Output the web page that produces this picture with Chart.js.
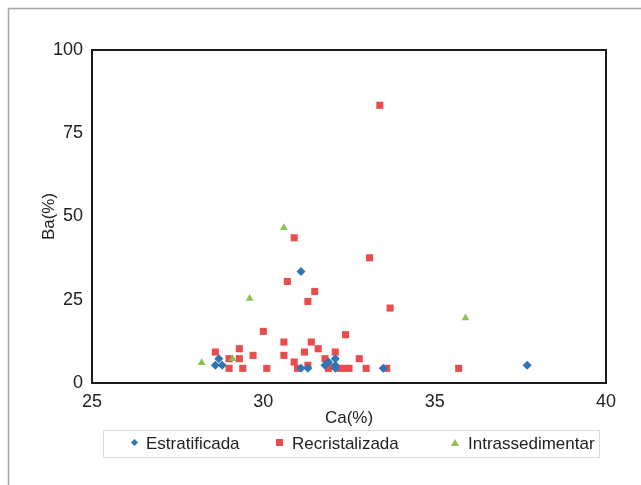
<!DOCTYPE html>
<html lang="pt">
<head>
    <meta charset="UTF-8" />
    <title>Ba vs Ca</title>
    <script src="https://cdn.jsdelivr.net/npm/chart.js"></script>
    <style>
        body {
            margin: 0;
            padding: 0;
            background: #fff;
            font-family: "Liberation Sans", Arial, sans-serif;
        }

        .wrap {
            position: relative;
            width: 641px;
            height: 485px;
        }

        .legend {
            position: absolute;
            left: 103px;
            top: 430px;
            width: 497px;
            height: 28px;
            box-sizing: border-box;
            border: 1px solid #d9d9d9;
            font-size: 17px;
            color: #222;
        }

        .legend span.item {
            position: absolute;
            top: 3px;
            white-space: nowrap;
        }

        .mk {
            display: inline-block;
            vertical-align: middle;
            margin-right: 9px;
            position: relative;
            top: -2px;
        }

        .mk.diamond {
            width: 5px;
            height: 5px;
            background: #2e75b6;
            transform: rotate(45deg);
        }

        .mk.square {
            width: 7px;
            height: 7px;
            background: #e84c4c;
        }

        .mk.triangle {
            width: 0;
            height: 0;
            border-left: 4px solid transparent;
            border-right: 4px solid transparent;
            border-bottom: 7px solid #8cc152;
        }
    </style>
</head>
<body>
    <div class="wrap">
        <canvas id="chart" width="641" height="485"></canvas>
        <div class="legend">
            <span class="item" style="left: 28px;"><i class="mk diamond"></i>Estratificada</span>
            <span class="item" style="left: 172px;"><i class="mk square"></i>Recristalizada</span>
            <span class="item" style="left: 347px;"><i class="mk triangle"></i>Intrassedimentar</span>
        </div>
    </div>

    <script>
        // Ca(%) / Ba(%) values
        const estratCa = [31.1, 37.7, 28.7, 28.6, 28.8, 31.1, 31.3, 31.8, 31.9, 32.1, 32.1, 32.1, 33.5];
        const estratBa = [33.5, 5.3, 7.3, 5.3, 5.3, 4.4, 4.4, 5.3, 6.3, 7.3, 5.3, 4.4, 4.4];

        const recristCa = [33.4, 30.9, 33.1, 30.7, 31.5, 31.3, 33.7, 30.0, 32.4, 30.6, 31.4, 29.3, 31.6,
            28.6, 31.2, 32.1, 30.6, 29.7, 29.0, 29.3, 30.9, 31.8, 32.8, 29.0, 29.4, 30.1, 31.0, 31.3,
            31.9, 31.9, 32.2, 32.4, 32.5, 33.0, 33.6, 35.7];
        const recristBa = [83.4, 43.6, 37.6, 30.5, 27.5, 24.5, 22.5, 15.5, 14.5, 12.3, 12.3, 10.3, 10.3,
            9.3, 9.3, 9.3, 8.3, 8.3, 7.3, 7.3, 6.3, 7.3, 7.3, 4.4, 4.4, 4.4, 4.4, 5.3,
            4.4, 5.3, 4.4, 4.4, 4.4, 4.4, 4.4, 4.4];

        const intraCa = [30.6, 29.6, 35.9, 28.2, 29.1];
        const intraBa = [46.6, 25.4, 19.5, 6.1, 7.3];

        const xTicks = [25, 30, 35, 40];
        const yTicks = [0, 25, 50, 75, 100];

        function toPoints(xs, ys) {
            return xs.map((x, i) => ({ x: x, y: ys[i] }));
        }

        // black frame round the plot and grey border round the chart
        const framePlugin = {
            id: 'frame',
            beforeDraw(chart) {
                const c = chart.ctx;
                c.save();
                c.strokeStyle = '#a6a6a6';
                c.lineWidth = 1.5;
                c.strokeRect(8.5, 8.5, 700, 600);
                c.restore();
            },
            afterDraw(chart) {
                const a = chart.chartArea;
                const c = chart.ctx;
                c.save();
                c.strokeStyle = '#1a1a1a';
                c.lineWidth = 2;
                c.strokeRect(a.left, a.top, a.right - a.left, a.bottom - a.top);
                c.restore();
            }
        };

        const font = { family: '"Liberation Sans", Arial, sans-serif', size: 18 };

        new Chart(document.getElementById('chart'), {
            type: 'scatter',
            data: {
                datasets: [{
                    label: 'Estratificada',
                    data: toPoints(estratCa, estratBa),
                    pointStyle: 'rectRot',
                    radius: 4.5,
                    backgroundColor: '#2e75b6',
                    borderColor: '#2e75b6',
                    borderWidth: 0,
                    order: 0
                }, {
                    label: 'Recristalizada',
                    data: toPoints(recristCa, recristBa),
                    pointStyle: 'rect',
                    radius: 5,
                    backgroundColor: '#e84c4c',
                    borderColor: '#e84c4c',
                    borderWidth: 0,
                    order: 2
                }, {
                    label: 'Intrassedimentar',
                    data: toPoints(intraCa, intraBa),
                    pointStyle: 'triangle',
                    radius: 4.5,
                    backgroundColor: '#8cc152',
                    borderColor: '#8cc152',
                    borderWidth: 0,
                    order: 1
                }]
            },
            options: {
                responsive: false,
                animation: false,
                layout: { padding: { left: 0, top: 50, right: 35, bottom: 0 } },
                plugins: {
                    legend: { display: false },
                    tooltip: { enabled: false }
                },
                scales: {
                    x: {
                        type: 'linear',
                        min: 25,
                        max: 40,
                        afterBuildTicks: s => { s.ticks = xTicks.map(v => ({ value: v })); },
                        afterFit: s => { s.height = 102; },
                        grid: { display: false, drawTicks: false },
                        border: { display: false },
                        ticks: { font: font, color: '#222', padding: 8 },
                        title: {
                            display: true,
                            text: 'Ca(%)',
                            font: { family: font.family, size: 17 },
                            color: '#222',
                            padding: { top: 0, bottom: 56 }
                        }
                    },
                    y: {
                        type: 'linear',
                        min: 0,
                        max: 100,
                        afterBuildTicks: s => { s.ticks = yTicks.map(v => ({ value: v })); },
                        afterFit: s => { s.width = 92; },
                        grid: { display: false, drawTicks: false },
                        border: { display: false },
                        ticks: { font: font, color: '#222', padding: 9 },
                        title: {
                            display: true,
                            text: 'Ba(%)',
                            font: { family: font.family, size: 17 },
                            color: '#222',
                            padding: { top: 39, bottom: 0 }
                        }
                    }
                }
            },
            plugins: [framePlugin]
        });
    </script>
</body>
</html>
